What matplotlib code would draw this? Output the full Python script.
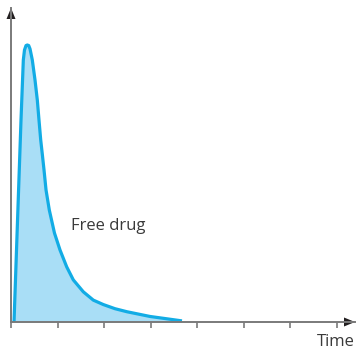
import matplotlib
matplotlib.use('Agg')
import matplotlib.pyplot as plt
from matplotlib.patches import Polygon

plt.rcParams['font.family'] = ['Open Sans', 'DejaVu Sans']

# free drug concentration vs time (arbitrary units, peak = 100)
time = [0.065, 0.215, 0.265, 0.290, 0.323, 0.351, 0.381, 0.409, 0.458, 0.516,
        0.566, 0.602, 0.639, 0.673, 0.710, 0.753, 0.824, 0.935, 1.054, 1.198,
        1.340, 1.555, 1.770, 1.985, 2.237, 2.495, 2.989, 3.677]
conc = [0, 72.9, 94.6, 98.2, 99.8, 100, 99.8, 98.6, 94.6, 87.4,
        80.1, 72.9, 65.7, 60.6, 54.9, 47.7, 40.4, 32.1, 26.0, 19.9,
        15.2, 10.9, 7.9, 6.3, 4.8, 3.7, 2.0, 0.4]
ticks = list(range(8))

line_col = '#12ACE5'
fill_col = '#A9DEF6'
axis_col = '#7a7a7a'
head_col = '#231F20'
text_col = '#3a3a3a'

W, H = 356, 350
fig = plt.figure(figsize=(W / 100, H / 100), dpi=100)
# axes box in pixels: origin at (11, 322), x arrow tip at 355, y arrow tip at 8
ax = fig.add_axes([11 / W, (H - 322) / H, (355 - 11) / W, (322 - 8) / H])
xmax = (355 - 11) / 46.5
ymax = (322 - 8) / 2.77
ax.set_xlim(0, xmax)
ax.set_ylim(0, ymax)

ax.fill_between(time, conc, 0, color=fill_col, lw=0)
ax.plot(time, conc, color=line_col, lw=2.3, solid_joinstyle='round',
        solid_capstyle='butt')

for s in ['top', 'right']:
    ax.spines[s].set_visible(False)
for s in ['left', 'bottom']:
    ax.spines[s].set_color(axis_col)
    ax.spines[s].set_linewidth(1.4)
ax.set_xticks(ticks)
ax.set_yticks([])
ax.tick_params(axis='x', direction='out', length=4, width=1.2,
               color=axis_col, labelbottom=False)

# arrow heads, sizes in pixels converted to data units
px_x = xmax / (355 - 11)
px_y = ymax / (322 - 8)
ax.add_patch(Polygon([[xmax, 0], [xmax - 11 * px_x, 4.5 * px_y],
                      [xmax - 11 * px_x, -4.5 * px_y]],
                     closed=True, color=head_col, clip_on=False, lw=0))
ax.add_patch(Polygon([[0, ymax], [-4.5 * px_x, ymax - 11 * px_y],
                      [4.5 * px_x, ymax - 11 * px_y]],
                     closed=True, color=head_col, clip_on=False, lw=0))

ax.text((71 - 11) / 46.5, (322 - 230) / 2.77, 'Free drug', fontsize=12,
        color=text_col, ha='left', va='baseline')
fig.text(355 / W, 4 / H, 'Time', fontsize=12, color=text_col,
         ha='right', va='baseline')

fig.savefig('out.png', dpi=100)
